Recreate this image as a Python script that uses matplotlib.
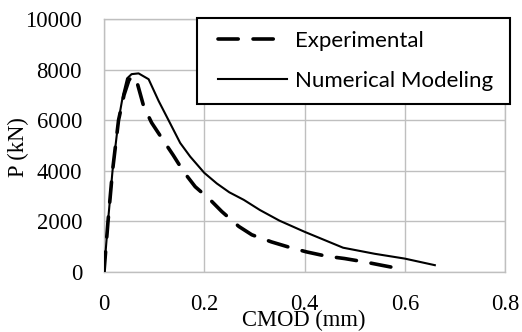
import matplotlib
matplotlib.use("Agg")
import matplotlib.pyplot as plt
from matplotlib.legend_handler import HandlerLine2D

# Experimental curve
exp_cmod = [0, 0.008, 0.017, 0.029, 0.040, 0.050, 0.059, 0.067, 0.079, 0.095,
            0.115, 0.138, 0.159, 0.182, 0.212, 0.235, 0.269, 0.295, 0.334,
            0.371, 0.404, 0.444, 0.480, 0.520, 0.554, 0.590]
exp_p = [0, 2000, 4000, 6000, 7000, 7600, 7750, 7420, 6560, 5900,
         5300, 4620, 3960, 3370, 2850, 2390, 1800, 1470, 1190,
         970, 795, 624, 532, 398, 266, 130]

# Numerical modeling curve
num_cmod = [0, 0.008, 0.017, 0.029, 0.038, 0.046, 0.055, 0.069, 0.089, 0.109,
            0.129, 0.152, 0.172, 0.200, 0.225, 0.250, 0.279, 0.311, 0.350,
            0.400, 0.477, 0.540, 0.600, 0.660]
num_p = [0, 2000, 4000, 6000, 7000, 7650, 7820, 7850, 7620, 6760,
         5990, 5100, 4560, 3920, 3500, 3150, 2850, 2450, 2030,
         1590, 960, 720, 530, 270]

x_ticks = [0, 0.2, 0.4, 0.6, 0.8]
x_ticklabels = ["0", "0.2", "0.4", "0.6", "0.8"]
y_ticks = [0, 2000, 4000, 6000, 8000, 10000]

W, H = 522, 332
fig = plt.figure(figsize=(W / 100, H / 100), dpi=100)
ax = fig.add_axes([104 / W, 1 - 272 / H, 401 / W, 253 / H])

serif = "Liberation Serif"
grid_col = "#bfbfbf"
fs = 16.3

ax.plot(exp_cmod, exp_p, color="black", lw=2.6, linestyle=(0, (5.6, 4.1)),
        dash_capstyle="round", solid_capstyle="round", label="Experimental",
        zorder=3)
ax.plot(num_cmod, num_p, color="black", lw=1.5, label="Numerical Modeling",
        zorder=3)

ax.set_xlim(0, 0.8)
ax.set_ylim(0, 10000)
ax.set_xticks(x_ticks)
ax.set_xticklabels(x_ticklabels)
ax.set_yticks(y_ticks)
ax.grid(True, color=grid_col, lw=1.0)
ax.set_axisbelow(True)
for s in ax.spines.values():
    s.set_color(grid_col)
    s.set_linewidth(1.0)
ax.tick_params(length=0, labelsize=fs)
ax.tick_params(axis="x", pad=16)
ax.tick_params(axis="y", pad=15.8)
for lab in ax.get_xticklabels() + ax.get_yticklabels():
    lab.set_fontfamily(serif)

# Excel-style axis titles (CMOD sits over the 0.4 label, as in the original)
ax.set_xlabel("CMOD (mm)", fontsize=fs, fontfamily=serif, va="center")
ax.xaxis.set_label_coords(200 / 401, -48 / 253)
ax.set_ylabel("P (kN)", fontsize=fs, fontfamily=serif, va="center")
ax.yaxis.set_label_coords(-86 / 401, 125 / 253)

hmap = {ln: HandlerLine2D(xpad=0.36) for ln in ax.get_lines()}
leg = ax.legend(loc="upper left", bbox_to_anchor=(197 / W, 1 - 101 / H, 313 / W, 83 / H),
                bbox_transform=fig.transFigure, mode="expand", fancybox=False,
                framealpha=1, edgecolor="black", borderaxespad=0,
                prop={"family": "Lato", "size": 16}, handlelength=3.47,
                labelspacing=0.9, borderpad=0.58, handletextpad=0.36,
                handler_map=hmap)
leg.get_frame().set_linewidth(1.5)

fig.savefig("out.png", dpi=100)
